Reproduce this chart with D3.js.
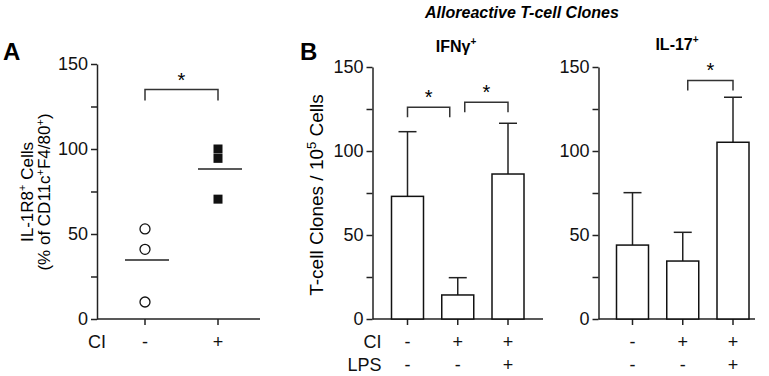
<!DOCTYPE html>
<html>
<head>
<meta charset="utf-8">
<script src="https://cdn.jsdelivr.net/npm/d3@7"></script>
<style>
  body { margin: 0; background: #fff; }
  svg { font-family: "Liberation Sans", Arial, sans-serif; }
  .axis path, .axis line { stroke: #222; stroke-width: 1.5; }
  .axis text { font-size: 18px; fill: #111; }
</style>
</head>
<body>
<div id="chart"></div>
<script>
// Panel A: IL-1R8+ cells, individual points
var groupsA = ["-", "+"];
var pointsMinus = [53, 41, 10];
var pointsPlus = [100, 94.5, 70.5];
var meansA = [34.7, 88.3];

// Panel B: bar charts (means and SD)
var conds = ["a", "b", "c"];
var ciRow = ["-", "+", "+"];
var lpsRow = ["-", "-", "+"];
var ifnMean = [73, 14.3, 86.3];
var ifnErr = [38.5, 10.3, 30.2];
var il17Mean = [44, 34.5, 105.2];
var il17Err = [31.2, 17.1, 26.8];

var yTicks = [0, 25, 50, 75, 100, 125, 150];
var yLabels = [0, 50, 100, 150];

// Significance brackets: from index, to index, height value
var bracketsA = [{ from: 0, to: 1, y: 135 }];
var bracketsIfn = [{ from: 0, to: 1, y: 126, dx1: 0, dx2: -8 }, { from: 1, to: 2, y: 129, dx1: 7, dx2: 0 }];
var bracketsIl17 = [{ from: 1, to: 2, y: 142, dx1: 5, dx2: 0 }];

var width = 769, height = 376;

var svg = d3.select("#chart").append("svg")
  .attr("width", width)
  .attr("height", height);

function yAxis(g, scale) {
  g.attr("class", "axis")
    .call(d3.axisLeft(scale).tickValues(yTicks).tickSize(6).tickSizeOuter(0)
      .tickFormat(function(d) { return yLabels.indexOf(d) >= 0 ? d : ""; }));
  g.selectAll(".tick text").attr("x", -9);
  return g;
}

function bracket(g, x, y, b, drop) {
  var dom = x.domain();
  var x1 = x(dom[b.from]) + (b.dx1 || 0), x2 = x(dom[b.to]) + (b.dx2 || 0), yy = y(b.y);
  g.append("path")
    .attr("d", "M" + x1 + "," + (yy + drop) + "V" + yy + "H" + x2 + "V" + (yy + drop))
    .attr("fill", "none").attr("stroke", "#333").attr("stroke-width", 1.5);
  g.append("text")
    .attr("x", (x1 + x2) / 2).attr("y", yy - 3)
    .attr("text-anchor", "middle")
    .style("font-size", "20px")
    .text("*");
}

// ---------- Panel A ----------
var yA = d3.scaleLinear().domain([0, 150]).range([319, 64]);
var xA = d3.scalePoint().domain(groupsA).range([145, 218]);

svg.append("text").attr("x", 3).attr("y", 60)
  .style("font-size", "24px").style("font-weight", "bold").text("A");

svg.append("g").attr("transform", "translate(97,0)").call(yAxis, yA);

var xAxA = svg.append("g").attr("class", "axis").attr("transform", "translate(0,319)");
xAxA.append("line").attr("x1", 97).attr("x2", 260);
xAxA.selectAll(".tk").data(groupsA).enter().append("line")
  .attr("x1", function(d) { return xA(d); }).attr("x2", function(d) { return xA(d); })
  .attr("y1", 0).attr("y2", 6);
xAxA.selectAll(".lab").data(groupsA).enter().append("text")
  .attr("x", function(d) { return xA(d); }).attr("y", 29)
  .attr("text-anchor", "middle").text(function(d) { return d; });
xAxA.append("text").attr("x", 97).attr("y", 29).attr("text-anchor", "middle").text("CI");

var labA = svg.append("text")
  .attr("transform", "translate(33,192) rotate(-90)")
  .attr("text-anchor", "middle")
  .style("font-size", "17px");
labA.append("tspan").attr("x", 0).attr("dy", 0).text("IL-1R8");
labA.append("tspan").attr("dy", -7).style("font-size", "11px").text("+");
labA.append("tspan").attr("dy", 7).text(" Cells");
var labA2 = svg.append("text")
  .attr("transform", "translate(50,192) rotate(-90)")
  .attr("text-anchor", "middle")
  .style("font-size", "17px");
labA2.append("tspan").text("(% of CD11c");
labA2.append("tspan").attr("dy", -6).style("font-size", "11px").text("+");
labA2.append("tspan").attr("dy", 6).text("F4/80");
labA2.append("tspan").attr("dy", -6).style("font-size", "11px").text("+");
labA2.append("tspan").attr("dy", 6).text(")");

svg.selectAll(".ptMinus").data(pointsMinus).enter().append("circle")
  .attr("cx", xA("-")).attr("cy", function(d) { return yA(d); })
  .attr("r", 5).attr("fill", "#fff").attr("stroke", "#111").attr("stroke-width", 1.3);
svg.selectAll(".ptPlus").data(pointsPlus).enter().append("rect")
  .attr("x", xA("+") - 4.5).attr("y", function(d) { return yA(d) - 4.5; })
  .attr("width", 9).attr("height", 9).attr("fill", "#111");
svg.selectAll(".meanA").data(meansA).enter().append("line")
  .attr("x1", function(d, i) { return xA(groupsA[i]) - 20; })
  .attr("x2", function(d, i) { return xA(groupsA[i]) + 24; })
  .attr("y1", function(d) { return yA(d); }).attr("y2", function(d) { return yA(d); })
  .attr("stroke", "#222").attr("stroke-width", 1.5);

var brA = svg.append("g");
bracketsA.forEach(function(b) { bracket(brA, xA, yA, b, 11); });

// ---------- Panel B ----------
svg.append("text").attr("x", 300).attr("y", 60)
  .style("font-size", "24px").style("font-weight", "bold").text("B");
svg.append("text").attr("x", 522).attr("y", 18).attr("text-anchor", "middle")
  .style("font-size", "16px").style("font-weight", "bold").style("font-style", "italic")
  .text("Alloreactive T-cell Clones");

var yB = d3.scaleLinear().domain([0, 150]).range([319, 67]);

function barPanel(axisX, xr, axisEnd, means, errs, brs, title, titleX, titleBase, rowLabels) {
  var x = d3.scalePoint().domain(conds).range(xr);
  var g = svg.append("g");
  g.append("g").attr("transform", "translate(" + axisX + ",0)").call(yAxis, yB);

  var xa = g.append("g").attr("class", "axis").attr("transform", "translate(0,319)");
  xa.append("line").attr("x1", axisX).attr("x2", axisEnd);
  xa.selectAll(".tk").data(conds).enter().append("line")
    .attr("x1", function(d) { return x(d); }).attr("x2", function(d) { return x(d); })
    .attr("y1", 0).attr("y2", 6);
  xa.selectAll(".ci").data(ciRow).enter().append("text")
    .attr("x", function(d, i) { return x(conds[i]); }).attr("y", 29)
    .attr("text-anchor", "middle").text(function(d) { return d; });
  xa.selectAll(".lps").data(lpsRow).enter().append("text")
    .attr("x", function(d, i) { return x(conds[i]); }).attr("y", 52)
    .attr("text-anchor", "middle").text(function(d) { return d; });
  if (rowLabels) {
    xa.append("text").attr("x", axisX + 9).attr("y", 29).attr("text-anchor", "end").text("CI");
    xa.append("text").attr("x", axisX + 9).attr("y", 52).attr("text-anchor", "end").text("LPS");
  }

  // error bars
  g.selectAll(".err").data(means).enter().append("line")
    .attr("x1", function(d, i) { return x(conds[i]); }).attr("x2", function(d, i) { return x(conds[i]); })
    .attr("y1", function(d) { return yB(d); })
    .attr("y2", function(d, i) { return yB(d + errs[i]); })
    .attr("stroke", "#222").attr("stroke-width", 1.5);
  g.selectAll(".cap").data(means).enter().append("line")
    .attr("x1", function(d, i) { return x(conds[i]) - 9; }).attr("x2", function(d, i) { return x(conds[i]) + 9; })
    .attr("y1", function(d, i) { return yB(d + errs[i]); })
    .attr("y2", function(d, i) { return yB(d + errs[i]); })
    .attr("stroke", "#222").attr("stroke-width", 1.5);
  // bars
  g.selectAll(".bar").data(means).enter().append("rect")
    .attr("x", function(d, i) { return x(conds[i]) - 16; })
    .attr("y", function(d) { return yB(d); })
    .attr("width", 32)
    .attr("height", function(d) { return yB(0) - yB(d); })
    .attr("fill", "#fff").attr("stroke", "#111").attr("stroke-width", 1.5);

  brs.forEach(function(b) { bracket(g, x, yB, b, 10); });

  var t = g.append("text").attr("x", titleX).attr("y", titleBase).attr("text-anchor", "middle")
    .style("font-size", "16px").style("font-weight", "bold");
  t.append("tspan").text(title);
  t.append("tspan").attr("dy", -7).style("font-size", "10px").text("+");
}

barPanel(372.5, [407.5, 508], 543, ifnMean, ifnErr, bracketsIfn, "IFN\u03B3", 456, 52, true);
barPanel(598.5, [632.5, 733], 755, il17Mean, il17Err, bracketsIl17, "IL-17", 677, 50, false);

// y label for panel B
var labB = svg.append("text")
  .attr("transform", "translate(323,195) rotate(-90)")
  .attr("text-anchor", "middle")
  .style("font-size", "19px");
labB.append("tspan").text("T-cell Clones / 10");
labB.append("tspan").attr("dy", -7).style("font-size", "13px").text("5");
labB.append("tspan").attr("dy", 7).text(" Cells");
</script>
</body>
</html>
